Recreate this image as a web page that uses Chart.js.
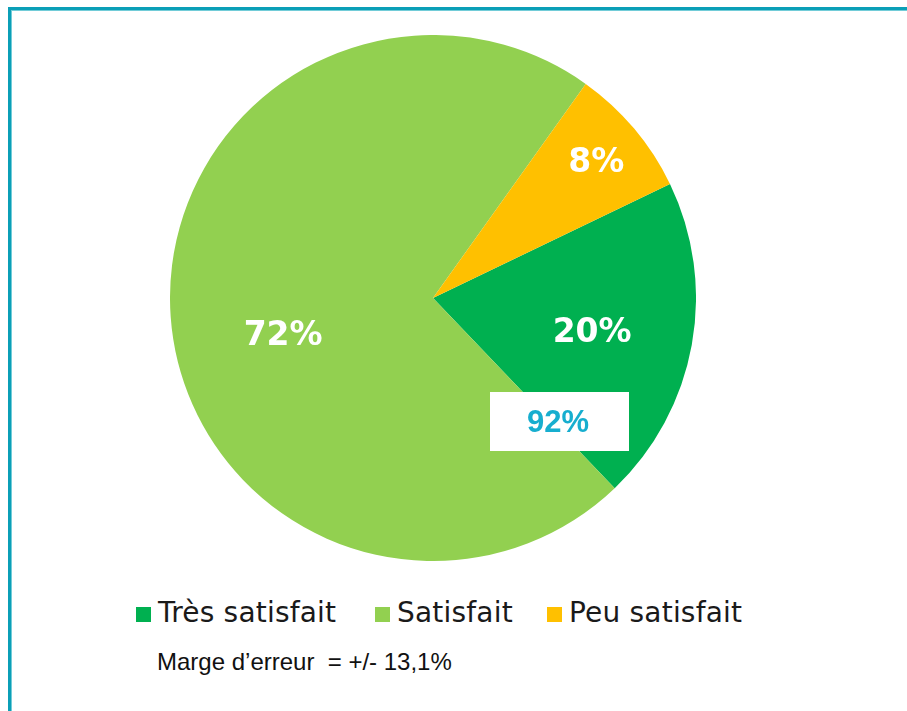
<!DOCTYPE html>
<html>
<head>
<meta charset="utf-8">
<script src="https://cdn.jsdelivr.net/npm/chart.js@4"></script>
<style>
  html, body { margin: 0; padding: 0; background: #fff; width: 907px; height: 711px; overflow: hidden; }
  #frame { position: absolute; left: 8px; top: 7px; width: 1000px; height: 800px;
           border-top: 3px solid #0B9FB7; border-left: 3px solid #0B9FB7;
           box-shadow: inset 1px 1px 0 #72CCD8; }
  #wrap { position: absolute; left: 170px; top: 35px; width: 526px; height: 526px; }
  #legend { position: absolute; left: 0; top: 600px; width: 907px; height: 30px;
            font-family: "DejaVu Sans", Verdana, sans-serif; font-size: 28px; letter-spacing: 0.2px; color: #1a1a1a; }
  .item { position: absolute; top: 0; height: 30px; white-space: nowrap; }
  .box { position: absolute; top: 7px; left: 0; width: 15px; height: 15px; }
  .txt { position: absolute; left: 22px; top: -3px; line-height: 32px; }
  #note { position: absolute; left: 157px; top: 649px; font-family: "Liberation Sans", Arial, sans-serif;
          font-size: 24px; color: #111; white-space: pre; line-height: 26px; }
</style>
</head>
<body>
<div id="frame"></div>
<div id="wrap"><canvas id="c"></canvas></div>
<div id="legend"></div>
<div id="note"></div>
<script>
// ---- data ----
const categories = ["Très satisfait", "Satisfait", "Peu satisfait"];
const values = [20, 72, 8];
const totalSatisfiedParts = [0, 1];   // categories summed in the boxed label
const noteText = "Marge d’erreur  = +/- 13,1%";

// ---- styles ----
const palette = ["#00B050", "#92D050", "#FFC000"];
const legendLeft = [136, 375, 547];

const labelPlugin = {
  id: 'sliceLabels',
  afterDatasetsDraw(chart, args, opts) {
    const ctx = chart.ctx;
    const meta = chart.getDatasetMeta(0);
    const data = chart.data.datasets[0].data;
    const fs = 33;
    ctx.save();
    ctx.textAlign = 'center';
    ctx.textBaseline = 'alphabetic';
    ctx.fillStyle = '#ffffff';
    ctx.font = 'bold ' + fs + 'px "DejaVu Sans"';
    meta.data.forEach((arc, i) => {
      const p = arc.getProps(['x', 'y', 'startAngle', 'endAngle', 'outerRadius'], true);
      const a = (p.startAngle + p.endAngle) / 2 + opts.angleShift[i] * Math.PI / 180;
      const r = p.outerRadius * opts.radiusFrac[i];
      ctx.fillText(data[i] + '%', p.x + r * Math.cos(a), p.y + r * Math.sin(a) + fs * 0.729 / 2);
    });
    // boxed total label at boundary of the summed slices
    const last = meta.data[totalSatisfiedParts[0]].getProps(['x', 'y', 'endAngle', 'outerRadius'], true);
    const total = totalSatisfiedParts.reduce((s, k) => s + data[k], 0);
    const a = last.endAngle + opts.totalShift * Math.PI / 180;
    const r = last.outerRadius * opts.totalFrac;
    const cx = last.x + r * Math.cos(a), cy = last.y + r * Math.sin(a);
    const bw = 139, bh = 59;
    ctx.fillStyle = '#ffffff';
    ctx.fillRect(Math.round(cx - bw / 2), Math.round(cy - bh / 2), bw, bh);
    ctx.fillStyle = '#17AECF';
    ctx.font = 'bold 31px "Liberation Sans"';
    ctx.fillText(total + '%', cx - 1, cy + 31 * 0.716 / 2);
    ctx.restore();
  }
};

new Chart(document.getElementById('c'), {
  type: 'pie',
  data: {
    labels: categories,
    datasets: [{ data: values, backgroundColor: palette, borderWidth: 0 }]
  },
  options: {
    responsive: true,
    maintainAspectRatio: false,
    animation: false,
    rotation: 64.3,
    layout: { padding: 0 },
    plugins: {
      legend: { display: false },
      tooltip: { enabled: false },
      sliceLabels: { radiusFrac: [0.617, 0.585, 0.812], angleShift: [1, -9, 0], totalFrac: 0.67, totalShift: -2 }
    }
  },
  plugins: [labelPlugin]
});

// legend
const leg = document.getElementById('legend');
categories.forEach((c, i) => {
  const it = document.createElement('div');
  it.className = 'item';
  it.style.left = legendLeft[i] + 'px';
  const b = document.createElement('div'); b.className = 'box'; b.style.background = palette[i];
  const t = document.createElement('div'); t.className = 'txt'; t.textContent = c;
  it.appendChild(b); it.appendChild(t); leg.appendChild(it);
});
document.getElementById('note').textContent = noteText;
</script>
</body>
</html>
